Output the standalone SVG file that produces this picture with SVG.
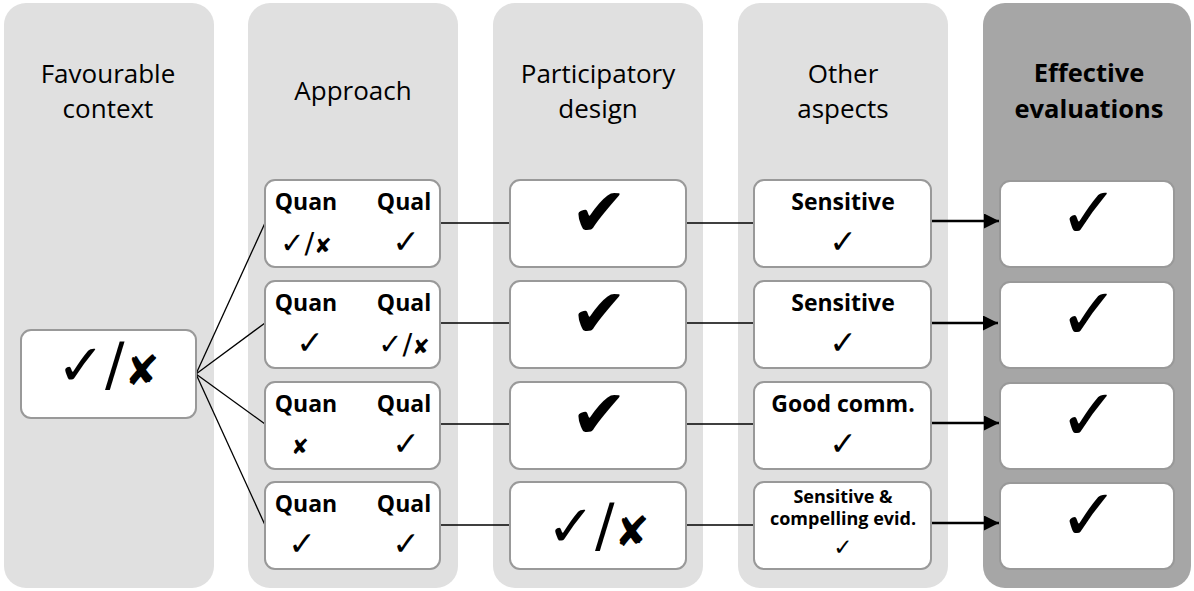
<svg xmlns="http://www.w3.org/2000/svg" width="1194" height="591" viewBox="0 0 1194 591">
<defs>
<style>
.col{fill:#e0e0e0}
.colD{fill:#a6a6a6}
.box{fill:#fff;stroke:#999;stroke-width:2}
.hd{font-family:"Open Sans","Noto Sans",sans-serif;font-size:26px;fill:#000;text-anchor:middle}
.hdb{font-family:"Open Sans","Noto Sans",sans-serif;font-size:25.5px;font-weight:bold;fill:#000;text-anchor:middle}
.lb{font-family:"Open Sans","Noto Sans",sans-serif;font-size:23px;font-weight:bold;fill:#000;text-anchor:middle}
.lbs{font-family:"Open Sans","Noto Sans",sans-serif;font-size:18px;font-weight:bold;fill:#000;text-anchor:middle}
.ck{font-family:"DejaVu Sans",sans-serif;fill:#000;text-anchor:middle}
.x{font-size:72%}
.ln{stroke:#000;stroke-width:1.3;fill:none}
.ar{stroke:#000;stroke-width:2.5;fill:none}
</style>
<marker id="ah" viewBox="0 0 10 10" refX="10" refY="5" markerWidth="6.5" markerHeight="6" markerUnits="strokeWidth" orient="auto">
<path d="M0,0 L10,5 L0,10 z" fill="#000"/>
</marker>
</defs>

<g id="columns">
<rect class="col" x="4" y="3" width="210" height="585" rx="22"/>
<rect class="col" x="248" y="3" width="210" height="585" rx="22"/>
<rect class="col" x="493" y="3" width="210" height="585" rx="22"/>
<rect class="col" x="738" y="3" width="210" height="585" rx="22"/>
<rect class="colD" x="983" y="3" width="208" height="585" rx="22"/>
<text class="hd" x="108" y="83">Favourable</text>
<text class="hd" x="108" y="118">context</text>
<text class="hd" x="353" y="100">Approach</text>
<text class="hd" x="598" y="83">Participatory</text>
<text class="hd" x="598" y="118">design</text>
<text class="hd" x="843" y="83">Other</text>
<text class="hd" x="843" y="118">aspects</text>
<text class="hdb" x="1089" y="82">Effective</text>
<text class="hdb" x="1089" y="118">evaluations</text>
</g>

<g id="connectors">
<line class="ln" x1="196" y1="374" x2="265" y2="223"/>
<line class="ln" x1="196" y1="374" x2="265" y2="323"/>
<line class="ln" x1="196" y1="374" x2="265" y2="424"/>
<line class="ln" x1="196" y1="374" x2="265" y2="525"/>
<line class="ln" x1="440" y1="223" x2="510" y2="223"/>
<line class="ln" x1="440" y1="323" x2="510" y2="323"/>
<line class="ln" x1="440" y1="424" x2="510" y2="424"/>
<line class="ln" x1="440" y1="525" x2="510" y2="525"/>
<line class="ln" x1="686" y1="223" x2="754" y2="223"/>
<line class="ln" x1="686" y1="323" x2="754" y2="323"/>
<line class="ln" x1="686" y1="424" x2="754" y2="424"/>
<line class="ln" x1="686" y1="525" x2="754" y2="525"/>
<line class="ar" x1="929" y1="221" x2="999" y2="221" marker-end="url(#ah)"/>
<line class="ar" x1="927" y1="323" x2="998" y2="323" marker-end="url(#ah)"/>
<line class="ar" x1="929" y1="423" x2="999" y2="423" marker-end="url(#ah)"/>
<line class="ar" x1="929" y1="523" x2="999" y2="523" marker-end="url(#ah)"/>
</g>

<g id="context">
<rect class="box" x="21" y="330" width="175" height="88" rx="10"/>
<text class="ck" x="108" y="385" font-size="58">✓/<tspan class="x">✘</tspan></text>
</g>

<g id="approach-1">
<rect class="box" x="265" y="180" width="175" height="87" rx="10"/>
<text class="lb" x="306" y="210">Quan</text>
<text class="lb" x="404" y="210">Qual</text>
<text class="ck" x="306" y="253" font-size="29">✓/<tspan class="x">✘</tspan></text>
<text class="ck" x="406" y="253" font-size="33">✓</text>
</g>
<g id="approach-2">
<rect class="box" x="265" y="281" width="175" height="87" rx="10"/>
<text class="lb" x="306" y="311">Quan</text>
<text class="lb" x="404" y="311">Qual</text>
<text class="ck" x="310" y="354" font-size="33">✓</text>
<text class="ck" x="404" y="354" font-size="29">✓/<tspan class="x">✘</tspan></text>
</g>
<g id="approach-3">
<rect class="box" x="265" y="382" width="175" height="87" rx="10"/>
<text class="lb" x="306" y="412">Quan</text>
<text class="lb" x="404" y="412">Qual</text>
<text class="ck" x="300" y="454" font-size="21">✘</text>
<text class="ck" x="406" y="455" font-size="33">✓</text>
</g>
<g id="approach-4">
<rect class="box" x="265" y="482" width="175" height="87" rx="10"/>
<text class="lb" x="306" y="512">Quan</text>
<text class="lb" x="404" y="512">Qual</text>
<text class="ck" x="302" y="555" font-size="33">✓</text>
<text class="ck" x="406" y="555" font-size="33">✓</text>
</g>

<g id="participatory-1">
<rect class="box" x="510" y="180" width="176" height="87" rx="10"/>
<text class="ck" x="599" y="236" font-size="68">✔</text>
</g>
<g id="participatory-2">
<rect class="box" x="510" y="281" width="176" height="87" rx="10"/>
<text class="ck" x="599" y="337" font-size="68">✔</text>
</g>
<g id="participatory-3">
<rect class="box" x="510" y="382" width="176" height="87" rx="10"/>
<text class="ck" x="599" y="438" font-size="68">✔</text>
</g>
<g id="participatory-4">
<rect class="box" x="510" y="482" width="176" height="87" rx="10"/>
<text class="ck" x="598" y="546" font-size="58">✓/<tspan class="x">✘</tspan></text>
</g>

<g id="other-1">
<rect class="box" x="754" y="180" width="177" height="87" rx="10"/>
<text class="lb" x="843" y="210">Sensitive</text>
<text class="ck" x="843" y="253" font-size="33">✓</text>
</g>
<g id="other-2">
<rect class="box" x="754" y="281" width="177" height="87" rx="10"/>
<text class="lb" x="843" y="311">Sensitive</text>
<text class="ck" x="843" y="354" font-size="33">✓</text>
</g>
<g id="other-3">
<rect class="box" x="754" y="382" width="177" height="87" rx="10"/>
<text class="lb" x="843" y="412">Good comm.</text>
<text class="ck" x="843" y="455" font-size="33">✓</text>
</g>
<g id="other-4">
<rect class="box" x="754" y="482" width="177" height="87" rx="10"/>
<text class="lbs" x="843" y="503">Sensitive &amp;</text>
<text class="lbs" x="843" y="525">compelling evid.</text>
<text class="ck" x="843" y="555" font-size="23">✓</text>
</g>

<g id="effective-1">
<rect class="box" x="1000" y="181" width="174" height="86" rx="10"/>
<text class="ck" x="1089" y="238" font-size="72">✓</text>
</g>
<g id="effective-2">
<rect class="box" x="1000" y="282" width="174" height="86" rx="10"/>
<text class="ck" x="1089" y="339" font-size="72">✓</text>
</g>
<g id="effective-3">
<rect class="box" x="1000" y="383" width="174" height="86" rx="10"/>
<text class="ck" x="1089" y="440" font-size="72">✓</text>
</g>
<g id="effective-4">
<rect class="box" x="1000" y="483" width="174" height="86" rx="10"/>
<text class="ck" x="1089" y="540" font-size="72">✓</text>
</g>
</svg>
